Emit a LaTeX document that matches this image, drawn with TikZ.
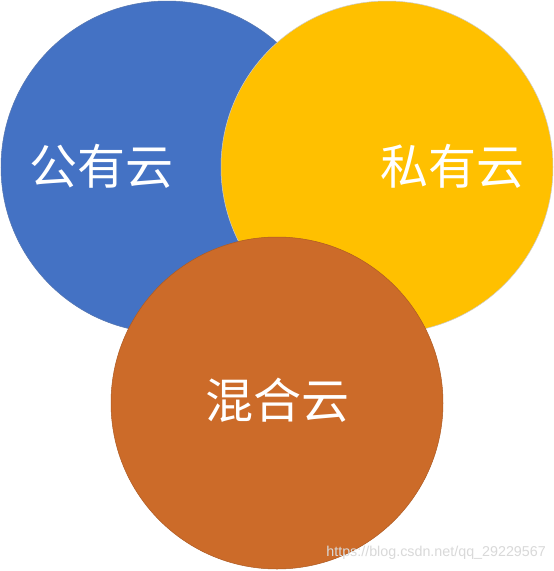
\documentclass[tikz,border=0pt]{standalone}
\usepackage{fontspec}
\newfontfamily\cjk{Noto Sans CJK SC}
\setmainfont{Liberation Sans}
\definecolor{cblue}{RGB}{68,114,196}
\definecolor{cyellow}{RGB}{255,192,0}
\definecolor{corange}{RGB}{204,107,41}
\begin{document}
\begin{tikzpicture}[x=1pt,y=-1pt,
  cloud/.style={circle,minimum size=332pt,inner sep=0pt},
  lbl/.style={text=white,font=\cjk\fontsize{48}{52}\selectfont,inner sep=0pt}]
\useasboundingbox (0,0) rectangle (554,571);
\fill[white] (0,0) rectangle (554,571);
\node[cloud,fill=cblue,draw=cblue!70!gray,line width=0.5pt] (pub) at (167,167) {};
\node[cloud,fill=cyellow,draw=gray!40,line width=0.5pt] (priv) at (387,167) {};
\node[cloud,fill=corange,draw=corange!85!black,line width=0.5pt] (hyb) at (277,403) {};
\node[lbl] (tpub) at (102,166) {公有云};
\node[lbl] (tpriv) at (452,166) {私有云};
\node[lbl] (thyb) at (277,400) {混合云};
\node[text=gray!30,font=\fontsize{14.3}{16}\selectfont,inner sep=0pt,anchor=east] (wm) at (546,553) {https://blog.csdn.net/qq\_29229567};
\end{tikzpicture}
\end{document}
